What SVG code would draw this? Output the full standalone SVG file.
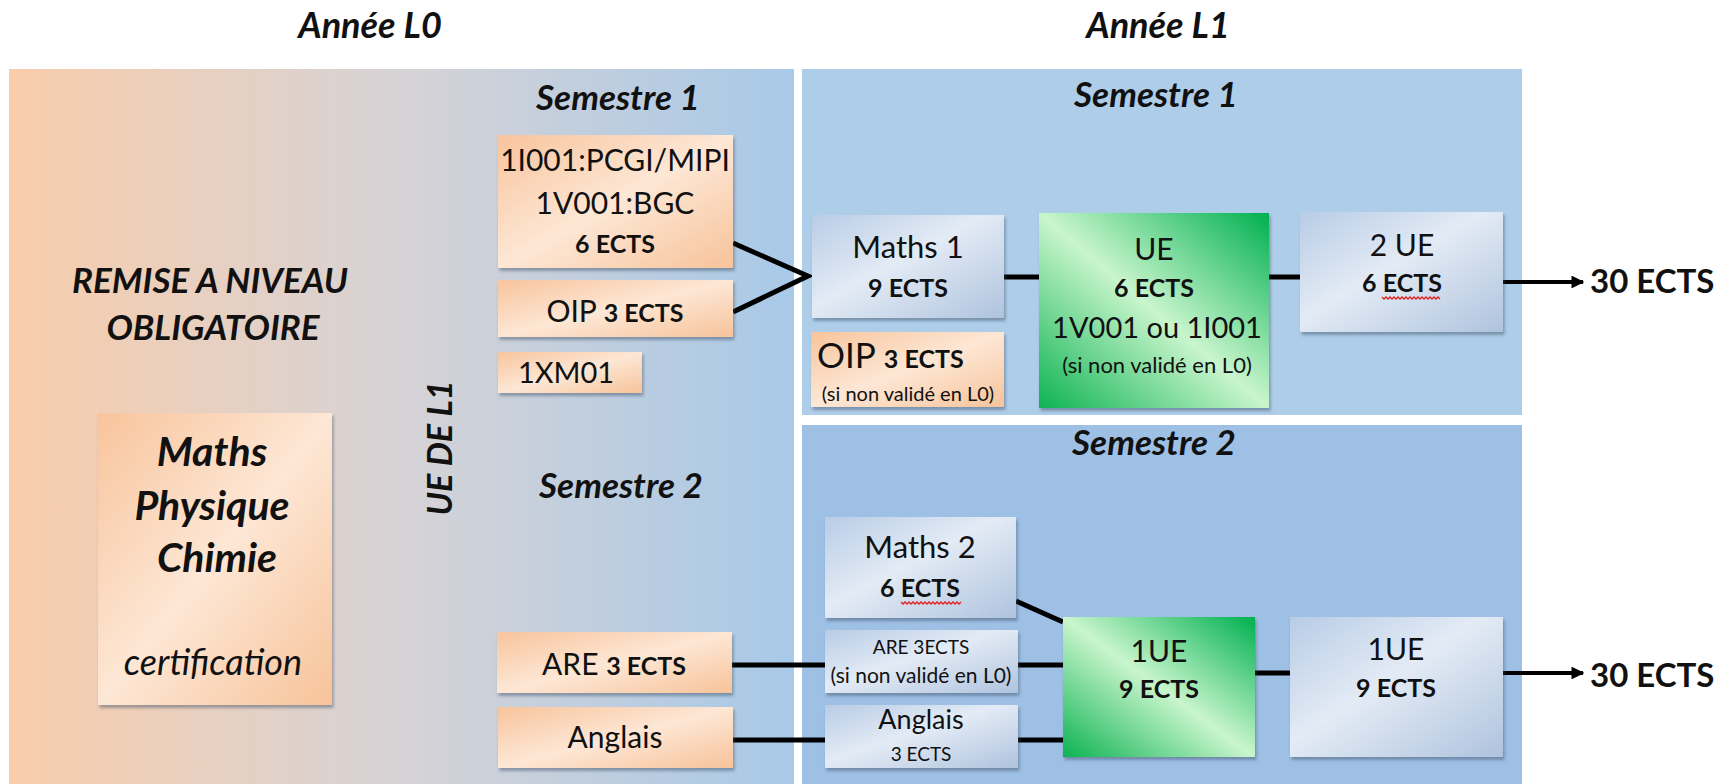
<svg xmlns="http://www.w3.org/2000/svg" width="1729" height="784" viewBox="0 0 1729 784">
<defs>
<style>
text{font-family:Lato,"Liberation Sans",sans-serif;fill:#111;}
.t{font-weight:bold;font-style:italic;text-anchor:middle;}
.c{text-anchor:middle;}
.b{font-weight:bold;}
.ln{stroke:#000;stroke-width:5;fill:none;}
.orange{fill:url(#gOrange);filter:url(#sh);}
.blue{fill:url(#gBlue);filter:url(#sh);}
.green{fill:url(#gGreen);filter:url(#sh);}
.sq{fill:none;stroke:#e0201c;stroke-width:1.3;}
</style>
<linearGradient id="gL0" x1="0" y1="0" x2="1" y2="0">
<stop offset="0" stop-color="#f9cdab"/>
<stop offset="0.5" stop-color="#d6d3d6"/>
<stop offset="1" stop-color="#a8c9e8"/>
</linearGradient>
<linearGradient id="gOrange" x1="0" y1="0" x2="1" y2="1">
<stop offset="0" stop-color="#f8c49c"/>
<stop offset="0.5" stop-color="#fde7d5"/>
<stop offset="1" stop-color="#f7c39a"/>
</linearGradient>
<linearGradient id="gBlue" x1="0" y1="0" x2="1" y2="1">
<stop offset="0" stop-color="#b8cce6"/>
<stop offset="0.45" stop-color="#e3ebf5"/>
<stop offset="1" stop-color="#afc3de"/>
</linearGradient>
<linearGradient id="gGreen" x1="0" y1="1" x2="1" y2="0">
<stop offset="0" stop-color="#0db352"/>
<stop offset="0.5" stop-color="#c9f5cd"/>
<stop offset="1" stop-color="#00b050"/>
</linearGradient>
<filter id="sh" x="-10%" y="-10%" width="125%" height="130%">
<feDropShadow dx="1.5" dy="3" stdDeviation="1.5" flood-color="#3a4a60" flood-opacity="0.45"/>
</filter>
<marker id="ah" viewBox="0 0 10 10" refX="9" refY="5" markerWidth="3.2" markerHeight="3.2" orient="auto" markerUnits="strokeWidth">
<path d="M0,0 L10,5 L0,10 z" fill="#000"/>
</marker>
</defs>
<rect width="1729" height="784" fill="#fff"/>
<g id="panels">
<rect x="9" y="69" width="785" height="715" fill="url(#gL0)"/>
<rect x="802" y="69" width="720" height="346" fill="#aecde9"/>
<rect x="802" y="425" width="720" height="359" fill="#9ec0e5"/>
</g>
<g id="titles">
<text class="t" x="370" y="38" font-size="36">Année L0</text>
<text class="t" x="1158" y="38" font-size="36">Année L1</text>
<text class="t" x="618" y="110" font-size="35">Semestre 1</text>
<text class="t" x="621" y="498" font-size="35">Semestre 2</text>
<text class="t" x="1156" y="107" font-size="35">Semestre 1</text>
<text class="t" x="1154" y="455" font-size="35">Semestre 2</text>
<text class="t" x="210" y="293" font-size="35">REMISE A NIVEAU</text>
<text class="t" x="213" y="340" font-size="35">OBLIGATOIRE</text>
<text class="t" x="0" y="0" font-size="34" transform="translate(452,448) rotate(-90)">UE DE L1</text>
</g>
<g id="connectors">
<polyline class="ln" points="733,243 808,276 733,312"/>
<line class="ln" x1="732" y1="665" x2="825" y2="665"/>
<line class="ln" x1="733" y1="740" x2="825" y2="740"/>
<line class="ln" x1="1004" y1="277" x2="1039" y2="277"/>
<line class="ln" x1="1269" y1="277" x2="1300" y2="277"/>
<line class="ln" x1="1016" y1="601" x2="1063" y2="622"/>
<line class="ln" x1="1018" y1="665" x2="1063" y2="665"/>
<line class="ln" x1="1018" y1="740" x2="1063" y2="740"/>
<line class="ln" x1="1255" y1="673" x2="1290" y2="673"/>
<line x1="1503" y1="282" x2="1583" y2="282" stroke="#000" stroke-width="4" marker-end="url(#ah)"/>
<line x1="1503" y1="673" x2="1583" y2="673" stroke="#000" stroke-width="4" marker-end="url(#ah)"/>
</g>
<g id="node-mpc">
<rect class="orange" x="98" y="413" width="234" height="292"/>
<text class="t" x="212" y="466" font-size="41">Maths</text>
<text class="t" x="212" y="520" font-size="41">Physique</text>
<text class="t" x="217" y="572" font-size="41">Chimie</text>
<text class="c" x="213" y="675" font-size="36" font-style="italic">certification</text>
</g>
<g id="node-1i001">
<rect class="orange" x="498" y="135" width="235" height="133"/>
<text class="c" x="615" y="171" font-size="30">1I001:PCGI/MIPI</text>
<text class="c" x="615" y="214" font-size="30">1V001:BGC</text>
<text class="c b" x="615" y="253" font-size="25">6 ECTS</text>
</g>
<g id="node-oip0">
<rect class="orange" x="498" y="280" width="235" height="57"/>
<text class="c" x="615" y="322" font-size="30">OIP <tspan class="b" font-size="25">3 ECTS</tspan></text>
</g>
<g id="node-1xm01">
<rect class="orange" x="498" y="352" width="144" height="41"/>
<text class="c" x="566" y="383" font-size="29">1XM01</text>
</g>
<g id="node-are0">
<rect class="orange" x="497" y="632" width="235" height="61"/>
<text class="c" x="614" y="675" font-size="30">ARE <tspan class="b" font-size="25">3 ECTS</tspan></text>
</g>
<g id="node-anglais0">
<rect class="orange" x="498" y="707" width="235" height="61"/>
<text class="c" x="615" y="748" font-size="30">Anglais</text>
</g>
<g id="node-maths1">
<rect class="blue" x="812" y="215" width="192" height="103"/>
<text class="c" x="908" y="258" font-size="31">Maths 1</text>
<text class="c b" x="908" y="297" font-size="25">9 ECTS</text>
</g>
<g id="node-oip1">
<rect class="orange" x="811" y="332" width="193" height="75"/>
<text x="817" y="368" font-size="35">OIP <tspan class="b" font-size="25">3 ECTS</tspan></text>
<text class="c" x="908" y="401" font-size="20">(si non validé en L0)</text>
</g>
<g id="node-ue1">
<rect class="green" x="1039" y="213" width="230" height="195"/>
<text class="c" x="1154" y="260" font-size="30">UE</text>
<text class="c b" x="1154" y="297" font-size="25">6 ECTS</text>
<text class="c" x="1157" y="338" font-size="29">1V001 ou 1I001</text>
<text class="c" x="1157" y="373" font-size="22">(si non validé en L0)</text>
</g>
<g id="node-2ue">
<rect class="blue" x="1300" y="212" width="203" height="120"/>
<text class="c" x="1402" y="256" font-size="30">2 UE</text>
<text class="c b" x="1402" y="292" font-size="25">6 ECTS</text>
<path class="sq" d="M1382,297 l2,2 l2,-2 l2,2 l2,-2 l2,2 l2,-2 l2,2 l2,-2 l2,2 l2,-2 l2,2 l2,-2 l2,2 l2,-2 l2,2 l2,-2 l2,2 l2,-2 l2,2 l2,-2 l2,2 l2,-2 l2,2 l2,-2 l2,2 l2,-2 l2,2 l2,-2 l2,2"/>
</g>
<g id="node-30a">
<text class="b" x="1590" y="293" font-size="33">30 ECTS</text>
</g>
<g id="node-maths2">
<rect class="blue" x="825" y="517" width="191" height="101"/>
<text class="c" x="920" y="558" font-size="31">Maths 2</text>
<text class="c b" x="920" y="597" font-size="25">6 ECTS</text>
<path class="sq" d="M901,602 l2,2 l2,-2 l2,2 l2,-2 l2,2 l2,-2 l2,2 l2,-2 l2,2 l2,-2 l2,2 l2,-2 l2,2 l2,-2 l2,2 l2,-2 l2,2 l2,-2 l2,2 l2,-2 l2,2 l2,-2 l2,2 l2,-2 l2,2 l2,-2 l2,2 l2,-2 l2,2 l2,-2"/>
</g>
<g id="node-are1">
<rect class="blue" x="825" y="630" width="193" height="63"/>
<text class="c" x="921" y="654" font-size="19">ARE 3ECTS</text>
<text class="c" x="921" y="683" font-size="21">(si non validé en L0)</text>
</g>
<g id="node-anglais1">
<rect class="blue" x="825" y="705" width="193" height="63"/>
<text class="c" x="921" y="729" font-size="27">Anglais</text>
<text class="c" x="921" y="761" font-size="19">3 ECTS</text>
</g>
<g id="node-1ue-green">
<rect class="green" x="1063" y="617" width="192" height="140"/>
<text class="c" x="1159" y="662" font-size="30">1UE</text>
<text class="c b" x="1159" y="698" font-size="25">9 ECTS</text>
</g>
<g id="node-1ue">
<rect class="blue" x="1290" y="617" width="213" height="140"/>
<text class="c" x="1396" y="660" font-size="30">1UE</text>
<text class="c b" x="1396" y="697" font-size="25">9 ECTS</text>
</g>
<g id="node-30b">
<text class="b" x="1590" y="687" font-size="33">30 ECTS</text>
</g>
</svg>
